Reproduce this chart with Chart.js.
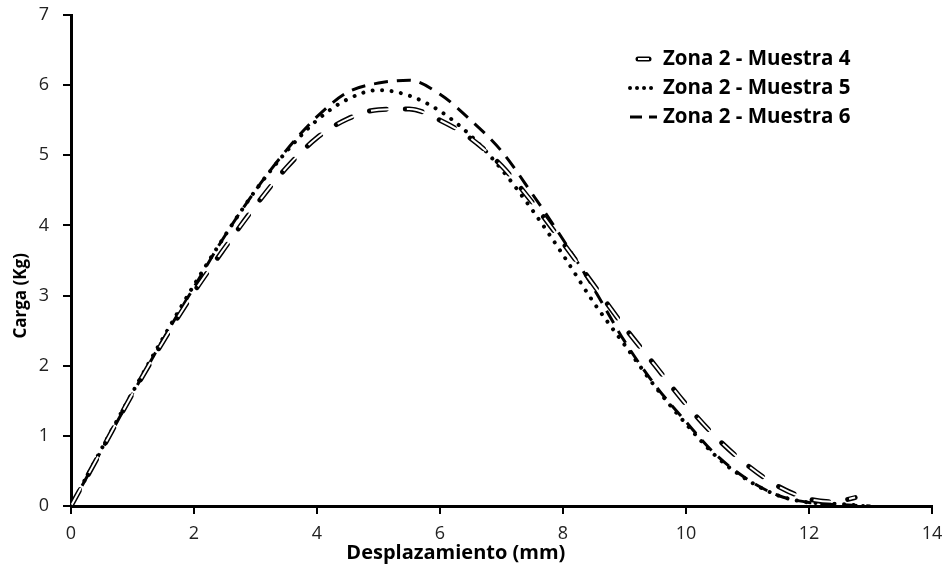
<!DOCTYPE html>
<html lang="es">
<head>
  <meta charset="UTF-8" />
  <title>Carga vs Desplazamiento</title>
  <script src="https://cdn.jsdelivr.net/npm/chart.js"></script>
  <style>
    html, body { margin: 0; padding: 0; background: #fff; }
    #wrap { width: 948px; height: 571px; }
  </style>
</head>
<body>
  <div id="wrap"><canvas id="grafico"></canvas></div>

  <script>
    // datos (x en mm, y en Kg)
    const desplazamiento4 = [0, 0.5, 1, 1.5, 2, 2.5, 3, 3.5, 4, 4.5, 5, 5.5, 6, 6.5, 7, 7.5, 8, 8.5, 9, 9.5, 10, 10.5, 11, 11.5, 12, 12.4, 12.75];
    const carga4 = [0, 0.8, 1.6, 2.35, 3.05, 3.68, 4.28, 4.82, 5.25, 5.52, 5.65, 5.66, 5.5, 5.24, 4.85, 4.33, 3.75, 3.15, 2.55, 2.0, 1.45, 0.97, 0.58, 0.28, 0.1, 0.06, 0.12];

    const desplazamiento5 = [0, 0.5, 1, 1.5, 2, 2.5, 3, 3.5, 4, 4.5, 5, 5.5, 6, 6.5, 7, 7.5, 8, 8.5, 9, 9.5, 10, 10.5, 11, 11.5, 12, 12.5, 12.9];
    const carga5 = [0, 0.82, 1.62, 2.4, 3.15, 3.85, 4.5, 5.05, 5.5, 5.8, 5.93, 5.85, 5.63, 5.28, 4.8, 4.22, 3.58, 2.9, 2.3, 1.7, 1.17, 0.7, 0.37, 0.15, 0.05, 0.03, 0];

    const desplazamiento6 = [0, 0.5, 1, 1.5, 2, 2.5, 3, 3.5, 4, 4.5, 5, 5.5, 6, 6.5, 7, 7.5, 8, 8.5, 9, 9.5, 10, 10.5, 11, 11.5, 12, 12.5, 13];
    const carga6 = [0, 0.8, 1.6, 2.38, 3.12, 3.85, 4.5, 5.07, 5.55, 5.9, 6.03, 6.07, 5.87, 5.5, 5.06, 4.45, 3.8, 3.1, 2.35, 1.72, 1.2, 0.72, 0.38, 0.15, 0.05, 0.02, 0];

    const etiquetas = ["Zona 2 - Muestra 4", "Zona 2 - Muestra 5", "Zona 2 - Muestra 6"];
    const tituloX = "Desplazamiento (mm)";
    const tituloY = "Carga (Kg)";

    const puntos = (xs, ys) => xs.map((x, i) => ({ x: x, y: ys[i] }));

    const fuente = "'Open Sans', 'DejaVu Sans', sans-serif";

    // leyenda y titulos de ejes dibujados a mano (en el original no estan centrados)
    const textosExtra = {
      id: "textosExtra",
      afterDraw(chart) {
        const ctx = chart.ctx;
        const area = chart.chartArea;

        // titulos
        ctx.save();
        ctx.fillStyle = "#000";
        ctx.font = "bold 20px " + fuente;
        ctx.textAlign = "center";
        ctx.textBaseline = "middle";
        ctx.fillText(tituloX, area.left + area.width * 0.447, 553);
        ctx.translate(21, area.top + area.height * 0.572);
        ctx.rotate(-Math.PI / 2);
        ctx.font = "bold 17px " + fuente;
        ctx.fillText(tituloY, 0, 0);
        ctx.restore();

        // leyenda
        const x0 = area.right - 302;
        const x1 = area.right - 275;
        const xt = area.right - 269;
        let y = area.top + 44;
        chart.data.datasets.forEach(ds => {
          if (!ds.enLeyenda) return;
          const capas = ds.capas || [ds];
          capas.forEach(c => {
            ctx.save();
            ctx.strokeStyle = c.borderColor;
            ctx.lineWidth = c.borderWidth;
            ctx.lineCap = c.borderCapStyle || "butt";
            ctx.setLineDash(c.legendDash || c.borderDash || []);
            ctx.beginPath();
            ctx.moveTo(x0 + (c.legendInset || 0), y);
            ctx.lineTo(x1 - (c.legendInset || 0), y);
            ctx.stroke();
            ctx.restore();
          });
          ctx.save();
          ctx.fillStyle = "#000";
          ctx.font = "bold 20.5px " + fuente;
          ctx.textBaseline = "middle";
          ctx.textAlign = "left";
          ctx.fillText(ds.label, xt, y);
          ctx.restore();
          y += 29;
        });
      }
    };

    const ctx = document.getElementById("grafico").getContext("2d");
    new Chart(ctx, {
      type: "scatter",
      data: {
        datasets: [
          {
            // relleno blanco de los guiones huecos de la muestra 4
            label: "",
            data: puntos(desplazamiento4, carga4),
            showLine: true,
            pointRadius: 0,
            borderColor: "#fff",
            borderWidth: 2,
            borderDash: [19, 17],
            borderDashOffset: -1.5,
            cubicInterpolationMode: "monotone",
            order: 0
          },
          {
            label: etiquetas[0],
            enLeyenda: true,
            data: puntos(desplazamiento4, carga4),
            showLine: true,
            pointRadius: 0,
            borderColor: "#000",
            borderWidth: 5,
            borderCapStyle: "round",
            borderDash: [17, 19],
            cubicInterpolationMode: "monotone",
            capas: [
              { borderColor: "#000", borderWidth: 5, borderCapStyle: "round", legendInset: 8 },
              { borderColor: "#fff", borderWidth: 2, legendInset: 8 }
            ],
            order: 1
          },
          {
            label: etiquetas[1],
            enLeyenda: true,
            data: puntos(desplazamiento5, carga5),
            showLine: true,
            pointRadius: 0,
            borderColor: "#000",
            borderWidth: 4,
            borderCapStyle: "round",
            borderDash: [0.01, 9.5],
            legendDash: [0.01, 7],
            cubicInterpolationMode: "monotone",
            order: 2
          },
          {
            label: etiquetas[2],
            enLeyenda: true,
            data: puntos(desplazamiento6, carga6),
            showLine: true,
            pointRadius: 0,
            borderColor: "#000",
            borderWidth: 3,
            borderDash: [14, 9],
            legendDash: [12, 7],
            cubicInterpolationMode: "monotone",
            order: 3
          }
        ]
      },
      options: {
        responsive: true,
        maintainAspectRatio: false,
        animation: false,
        layout: { padding: { top: 15, right: 16, left: 0, bottom: 0 } },
        plugins: {
          legend: { display: false },
          tooltip: { enabled: false }
        },
        scales: {
          x: {
            type: "linear",
            min: 0,
            max: 14,
            ticks: { stepSize: 2, color: "#222", font: { size: 18, family: fuente }, padding: 9 },
            grid: { drawOnChartArea: false, drawTicks: true, tickLength: 8, color: "#000", lineWidth: 2 },
            border: { color: "#000", width: 3 },
            afterFit: s => { s.height = 65; s.paddingLeft = 0; s.paddingRight = 0; }
          },
          y: {
            min: 0,
            max: 7,
            ticks: { stepSize: 1, color: "#222", font: { size: 18, family: fuente }, padding: 14 },
            grid: { drawOnChartArea: false, drawTicks: true, tickLength: 8, color: "#000", lineWidth: 2 },
            border: { color: "#000", width: 3 },
            afterFit: s => { s.width = 71; s.paddingTop = 0; s.paddingBottom = 0; }
          }
        }
      },
      plugins: [textosExtra]
    });
  </script>
</body>
</html>
